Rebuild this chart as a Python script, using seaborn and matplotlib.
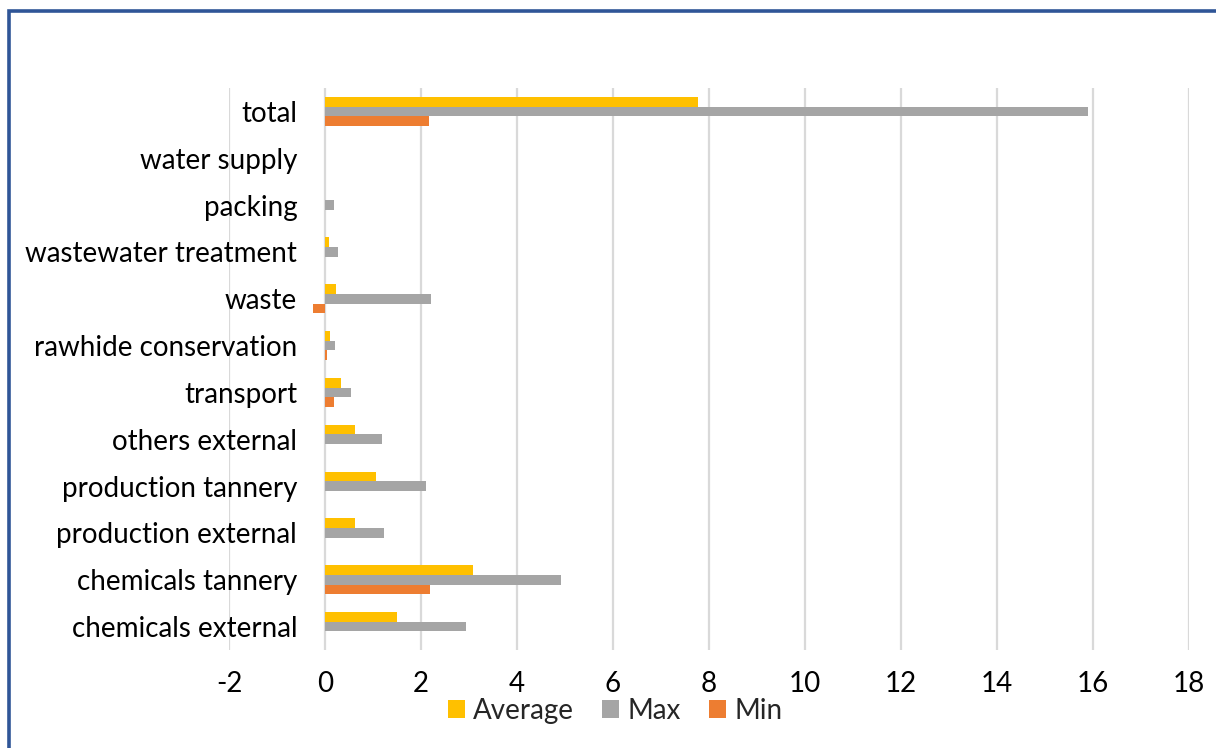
import matplotlib
matplotlib.use("Agg")
import matplotlib.pyplot as plt
from matplotlib.patches import Rectangle, Patch
import seaborn as sns
import pandas as pd

# Emission contributions per process stage
categories = [
    "total", "water supply", "packing", "wastewater treatment", "waste",
    "rawhide conservation", "transport", "others external",
    "production tannery", "production external", "chemicals tannery",
    "chemicals external",
]
average = [7.77, 0.0, 0.01, 0.08, 0.23, 0.11, 0.33, 0.62, 1.06, 0.62, 3.09, 1.51]
maximum = [15.9, 0.0, 0.19, 0.28, 2.21, 0.21, 0.55, 1.18, 2.10, 1.22, 4.92, 2.93]
minimum = [2.17, 0.0, 0.0, 0.0, -0.25, 0.04, 0.18, 0.0, 0.0, 0.0, 2.19, 0.0]
series = ["Average", "Max", "Min"]
colors = ["#FFC000", "#A5A5A5", "#ED7D31"]
xticks = list(range(-2, 19, 2))

df = pd.DataFrame({
    "category": categories * 3,
    "series": [s for s in series for _ in categories],
    "value": average + maximum + minimum,
})

sns.set_style("white")
plt.rcParams["font.family"] = ["Lato", "DejaVu Sans"]
FS = 20

fig = plt.figure(figsize=(12.16, 7.48), dpi=100)
W, H = 1216, 748
ax = fig.add_axes([229 / W, 1 - 650 / H, 960 / W, 562 / H])

sns.barplot(
    data=df, x="value", y="category", hue="series",
    order=categories, hue_order=series, palette=colors,
    orient="h", width=0.62, saturation=1, errorbar=None,
    legend=False, linewidth=0, ax=ax,
)

ax.set_xlim(-2, 18)
ax.set_ylim(11.5, -0.5)
ax.set_xticks(xticks)
ax.set_xticklabels([str(t) for t in xticks])
ax.set_xlabel("")
ax.set_ylabel("")
ax.grid(axis="x", color="#D9D9D9", linewidth=1.6)
ax.grid(axis="y", visible=False)
ax.set_axisbelow(True)

for side in ["top", "right", "bottom"]:
    ax.spines[side].set_visible(False)
ax.spines["left"].set_position(("data", 0))
ax.spines["left"].set_visible(False)

ax.tick_params(axis="y", length=0, pad=20, labelsize=FS, labelcolor="black")
ax.tick_params(axis="x", length=0, pad=15, labelsize=FS, labelcolor="black")

handles = [Patch(facecolor=c, edgecolor="none", label=s) for s, c in zip(series, colors)]
fig.legend(
    handles=handles, loc="center", bbox_to_anchor=(615 / W, 1 - 711 / H),
    ncol=3, frameon=False, fontsize=FS, handlelength=0.62, handleheight=0.62,
    handletextpad=0.3, columnspacing=1.0, borderpad=0, borderaxespad=0,
)

# Outer blue frame, running past the right and bottom edges
fig.patches.append(Rectangle(
    (9 / W, -0.05), 1.1, 1 - 11 / H + 0.05, transform=fig.transFigure,
    fill=False, edgecolor="#2F5597", linewidth=2.6, zorder=10,
))

fig.savefig("out.png", dpi=100)
